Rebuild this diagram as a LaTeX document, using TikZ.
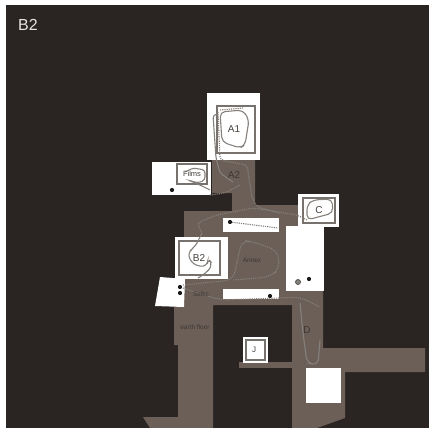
\documentclass[tikz,border=0pt]{standalone}
\usepackage{fontspec}
\setmainfont{Liberation Sans}
\begin{document}
\begin{tikzpicture}[
    x=1pt, y=-1pt,
    floorplan/.style={fill=floorbrown, draw=none},
    room/.style={fill=white, draw=none},
    frame/.style={draw=framegrey, line width=1.2pt},
    walk/.style={draw=tracegrey, line width=1.1pt, rounded corners=3pt},
    track/.style={draw=tracegrey, line width=1.1pt, dash pattern=on 1.2pt off 1pt, rounded corners=4pt},
    spot/.style={circle, fill=black!90, inner sep=0pt, minimum size=4.2pt},
    tag/.style={font=\fontsize{10}{11}\selectfont, text=labelgrey, inner sep=0pt},
    floortag/.style={font=\fontsize{6.5}{7}\selectfont, text=floorlabel, inner sep=0pt}
]
  \definecolor{darkground}{HTML}{2A2523}
  \definecolor{floorbrown}{HTML}{6B5F58}
  \definecolor{framegrey}{HTML}{77726E}
  \definecolor{tracegrey}{HTML}{85807B}
  \definecolor{labelgrey}{HTML}{45403C}
  \definecolor{floorlabel}{HTML}{3F3733}

  \useasboundingbox (0,0) rectangle (429,428);
  \fill[white] (0,0) rectangle (429,428);
  \fill[darkground] (6,5) rectangle (429,428);

  % walkable floor
  \fill[floorplan] (212,160) -- (255,160) -- (255,205) -- (298,205) -- (298,227) -- (323,227)
    -- (323,348) -- (425,348) -- (425,372) -- (345,372) -- (345,418) -- (317,428) -- (292,428)
    -- (292,305) -- (213,305) -- (213,428) -- (150,428) -- (143,417) -- (178,417) -- (178,345)
    -- (174,345) -- (174,305) -- (184,279) -- (184,211) -- (232,211) -- (232,193) -- (212,193) -- cycle;
  \fill[floorplan] (239,362) rectangle (292,368);

  % rooms
  \fill[room] (207,93) rectangle (260,160);
  \fill[room] (152,162) rectangle (211,195);
  \fill[room] (298,194) rectangle (339,227);
  \fill[room] (286,226) rectangle (324,291);
  \fill[room] (223,218) rectangle (279,232);
  \fill[room] (223,289) rectangle (279,299);
  \fill[room] (175,237) rectangle (228,279);
  \fill[room] (160,277) -- (185,279) -- (184,307) -- (155,306) -- cycle;
  \fill[room] (243,337) rectangle (268,363);
  \fill[room] (306,368) rectangle (341,403);

  % inner frames
  \draw[frame] (217,106) rectangle (255,153);
  \draw[frame] (177,164) rectangle (207,184);
  \draw[frame] (303,198) rectangle (335,223);
  \draw[frame] (179,241) rectangle (220,275);
  \draw[frame, line width=2pt] (246,340) rectangle (265,360);

  % paths of the visitors
  \draw[walk, rounded corners=5pt] (220,112) -- (243,110) -- (249,120) -- (245,145) -- (240,148) -- (222,142) -- cycle;
  \draw[walk] (218,114) -- (213,115) -- (216,158) -- (220,173) -- (233,182);
  \draw[walk] (185,172) -- (193,168) -- (205,170) -- (205,180) -- (198,183) -- (188,180) -- (200,185) -- (210,190);
  \draw[walk, rounded corners=5pt] (307,205) -- (313,200) -- (332,199) -- (333,213) -- (307,220) -- cycle;
  \draw[walk, rounded corners=6pt] (202,233) -- (195,247) -- (187,253) -- (193,265) -- (207,267) -- (208,258) -- (213,265) -- (205,274) -- (198,278);
  \draw[walk, rounded corners=6pt] (300,303) -- (303,333) -- (307,363) -- (318,365) -- (320,340);
  \draw[track] (220,110) -- (243,108);
  \draw[track] (218,112) -- (220,160) -- (247,165) -- (252,198) -- (257,207) -- (280,213);
  \draw[track] (210,195) -- (225,193) -- (240,185);
  \draw[track] (230,222) -- (278,228);
  \draw[track] (307,220) -- (297,215) -- (253,208) -- (217,215) -- (197,223) -- (202,233);
  \draw[track, rounded corners=8pt] (183,285) -- (233,280) -- (242,240) -- (253,242) -- (277,250) -- (280,268) -- (270,277) -- (233,280);
  \draw[track, rounded corners=8pt] (183,288) -- (220,300) -- (280,298) -- (300,297) -- (320,307);

  % sensors
  \node[spot] (filmsspot) at (172,190) {};
  \node[spot] (stripspot) at (230,222) {};
  \node[spot] (lowerspot) at (270,296) {};
  \node[spot] (doorspot) at (180,287) {};
  \node[spot] (doorspottwo) at (180,293) {};
  \node[spot] (annexspot) at (309,279) {};
  \node[spot, fill=tracegrey, draw=black!70, line width=0.7pt, minimum size=5pt] (annexring) at (298,282) {};

  % labels
  \node[font=\fontsize{16}{18}\selectfont, text=white!90!black, inner sep=0pt] (title) at (28,25) {B2};
  \node[tag] (aone) at (234,129) {A1};
  \node[tag, font=\fontsize{7.5}{8}\selectfont] (films) at (192,174) {Films};
  \node[tag, text=floorlabel] (atwo) at (234,175) {A2};
  \node[tag] (cee) at (319,210) {C};
  \node[tag] (btwo) at (199,258) {B2};
  \node[floortag] (annex) at (252,260) {Annex};
  \node[floortag] (selkc) at (201,294) {Selkc};
  \node[floortag] (earthfloor) at (195,327) {earth floor};
  \node[tag, text=floorlabel] (dee) at (307,330) {D};
  \node[tag, font=\fontsize{8}{9}\selectfont] (jay) at (254,350) {J};
\end{tikzpicture}
\end{document}
